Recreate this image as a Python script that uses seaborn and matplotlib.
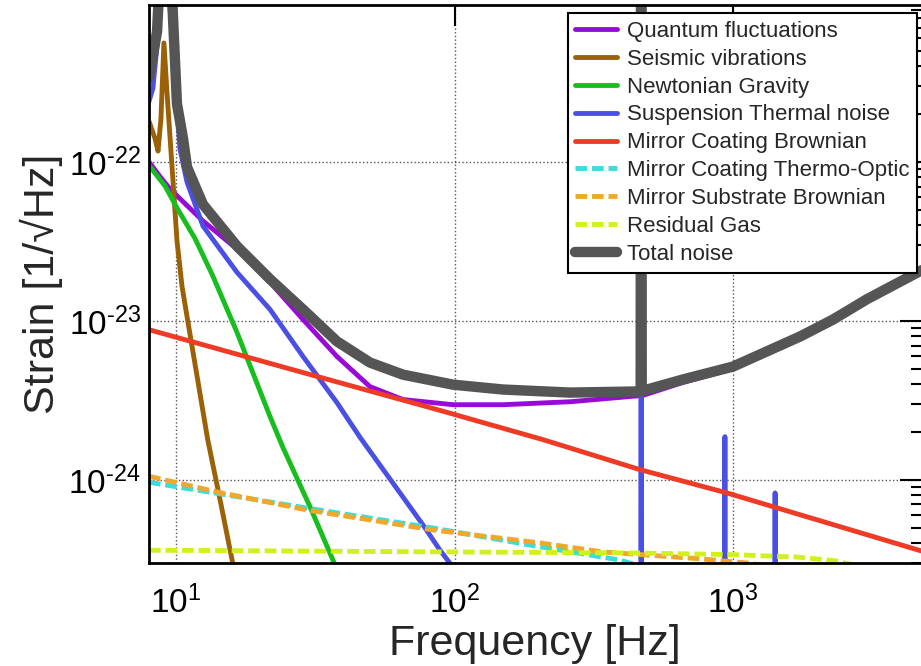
import numpy as np
import matplotlib
matplotlib.use('Agg')
import matplotlib.pyplot as plt
import matplotlib.ticker as mticker
import seaborn as sns

# noise budget values (frequency in Hz, strain in 1/sqrt(Hz))
freq_quantum = [8.0, 8.8, 9.52, 12.5, 16.56, 21.76, 28.58, 37.84, 49.7, 65.3, 98.8, 149.3, 259.9, 475, 661,
                1000, 1742, 2286, 3029, 4800]
strain_quantum = [1.0e-22, 8.0e-23, 6.75e-23, 4.25e-23, 2.83e-23, 1.75e-23, 1.02e-23, 5.97e-24, 3.86e-24, 3.20e-24,
                  2.97e-24, 2.97e-24, 3.10e-24, 3.40e-24, 4.1e-24, 5.0e-24, 7.7e-24, 9.8e-24, 1.33e-23, 2.05e-23]

freq_seismic = [8.0, 8.41, 8.62, 8.83, 9.05, 9.28, 9.76, 10.08, 10.51, 10.95, 13.0, 14.4, 15.9, 17.0]
strain_seismic = [1.8e-22, 1.40e-22, 1.17e-22, 1.87e-22, 5.6e-22, 2.77e-22, 7.48e-23, 3.2e-23, 1.65e-23, 1.07e-23,
                  1.79e-24, 7.48e-25, 3.13e-25, 1.9e-25]

freq_newtonian = [8.0, 9.13, 10.17, 11.7, 13.5, 16.56, 21.76, 24.2, 30.3, 36.6, 40]
strain_newtonian = [9.5e-23, 7.06e-23, 5.0e-23, 3.3e-23, 1.95e-23, 8.46e-24, 2.5e-24, 1.6e-24, 6.76e-25, 3.13e-25, 2.2e-25]

freq_suspension = [8.0, 8.26, 8.6, 9.0, 9.5, 10.33, 10.95, 12.5, 16.56, 21.76, 28.58, 37.84, 45.8, 77.1, 88.7, 120,
                   466, 468, 470, 933, 935, 937, 1413, 1416, 1419]
strain_suspension = [2.4e-22, 2.9e-22, 6e-22, 1e-20, 1e-21, 1.21e-22, 7.48e-23, 3.95e-23, 2.02e-23, 1.18e-23,
                     5.97e-24, 3.06e-24, 1.85e-24, 5.2e-25, 3.61e-25, 1.8e-25,
                     1e-26, 1e-19, 1e-26, 1e-26, 1.87e-24, 1e-26, 1e-26, 8.28e-25, 1e-26]

freq_coating = [8.0, 28.58, 86.5, 208, 463, 950, 4800]
strain_coating = [8.8e-24, 4.73e-24, 2.77e-24, 1.79e-24, 1.16e-24, 8.28e-25, 3.55e-25]

freq_thermo = [8.0, 8.26, 29.5, 83.7, 186.7, 393, 600]
strain_thermo = [9.7e-25, 9.57e-25, 6.65e-25, 4.98e-25, 3.89e-25, 3.13e-25, 2.5e-25]

freq_substrate = [8.0, 8.26, 14.0, 29.5, 83.7, 202.8, 341, 742, 1123, 1500]
strain_substrate = [1.05e-24, 1.04e-24, 8.4e-25, 6.47e-25, 4.84e-25, 4.01e-25, 3.52e-25, 3.2e-25, 3.0e-25, 2.8e-25]

freq_gas = [8.0, 8.26, 427, 975, 1698, 2323, 3000]
strain_gas = [3.61e-25, 3.61e-25, 3.47e-25, 3.39e-25, 3.27e-25, 3.1e-25, 2.8e-25]

freq_total = [8.0, 8.55, 8.75, 9.1, 9.6, 10.08, 10.6, 10.95, 12.5, 16.56, 21.76, 28.58, 37.84, 49.7, 65.3, 98.8,
              149.3, 259.9, 466, 468, 470, 661, 1000, 1742, 2286, 3029, 4800]
strain_total = [3.4e-22, 6.6e-22, 1.5e-21, 1e-20, 1.5e-21, 2.32e-22, 1.40e-22, 9.3e-23, 5.4e-23, 2.95e-23, 1.83e-23,
                1.18e-23, 7.43e-24, 5.47e-24, 4.59e-24, 3.97e-24, 3.70e-24, 3.54e-24,
                3.6e-24, 1e-19, 3.62e-24, 4.28e-24, 5.16e-24, 7.98e-24, 1.02e-23, 1.37e-23, 2.1e-23]

x_ticks = [10, 100, 1000]
y_ticks = [1e-24, 1e-23, 1e-22]

sns.set_style('white')
plt.rcParams['font.family'] = ['Liberation Sans', 'DejaVu Sans']
plt.rcParams['mathtext.fontset'] = 'custom'
plt.rcParams['mathtext.rm'] = 'Liberation Sans'
plt.rcParams['mathtext.it'] = 'Liberation Sans:italic'
plt.rcParams['mathtext.bf'] = 'Liberation Sans:bold'

fig = plt.figure(figsize=(9.21, 6.66), dpi=100)
ax = fig.add_axes([149 / 921, 1 - 563 / 666, 772 / 921, 558 / 666])

dash = (0, (2.4, 1.0))
series = [
    (freq_quantum, strain_quantum, 'Quantum fluctuations', '#9A0AD6', '-', 3.5),
    (freq_seismic, strain_seismic, 'Seismic vibrations', '#9A6106', '-', 3.5),
    (freq_newtonian, strain_newtonian, 'Newtonian Gravity', '#18BE1E', '-', 3.5),
    (freq_suspension, strain_suspension, 'Suspension Thermal noise', '#4B50E4', '-', 3.5),
    (freq_coating, strain_coating, 'Mirror Coating Brownian', '#EE3B26', '-', 3.5),
    (freq_thermo, strain_thermo, 'Mirror Coating Thermo-Optic', '#3BDCDC', dash, 3.5),
    (freq_substrate, strain_substrate, 'Mirror Substrate Brownian', '#F0A82C', dash, 3.5),
    (freq_gas, strain_gas, 'Residual Gas', '#D2F01E', dash, 3.5),
    (freq_total, strain_total, 'Total noise', '#555555', '-', 7.5),
]
for fx, hy, name, col, ls, lw in series:
    sns.lineplot(x=fx, y=hy, ax=ax, color=col, linestyle=ls, lw=lw, label=name, sort=False,
                 solid_joinstyle='round')

ax.set_xscale('log')
ax.set_yscale('log')
ax.set_xlim(8.0, 4730)
ax.set_ylim(3.0e-25, 9.7e-22)


def sci_label(v, pos):
    e = int(round(np.log10(v)))
    s = str(abs(e))
    if e < 0:
        s = r'\text{-}' + s
    return r'$\mathregular{10^{%s}}$' % s


ax.xaxis.set_major_locator(mticker.FixedLocator(x_ticks))
ax.xaxis.set_minor_locator(mticker.NullLocator())
ax.yaxis.set_major_locator(mticker.FixedLocator(y_ticks))
ax.yaxis.set_minor_locator(mticker.LogLocator(base=10, subs=np.arange(2, 10), numticks=20))
ax.yaxis.set_minor_formatter(mticker.NullFormatter())
ax.xaxis.set_major_formatter(mticker.FuncFormatter(sci_label))
ax.yaxis.set_major_formatter(mticker.FuncFormatter(sci_label))

ax.tick_params(which='both', direction='in', top=True, right=True, labelsize=24, width=1.5, colors='black')
ax.tick_params(which='major', length=15)
ax.tick_params(which='minor', length=7)
ax.tick_params(axis='x', which='major', pad=16)
ax.tick_params(axis='y', which='major', pad=6)
ax.grid(True, which='major', linestyle=':', color='#555555', lw=1)

for sp in ax.spines.values():
    sp.set_linewidth(2)
    sp.set_color('black')
ax.spines['right'].set_visible(False)

ax.set_xlabel('Frequency [Hz]', fontsize=31, labelpad=3)
ax.set_ylabel('Strain [1/\u221aHz]', fontsize=31, labelpad=4)

leg = ax.legend(loc='upper right', bbox_to_anchor=(0.9948, 0.9857), borderaxespad=0, fontsize=16,
                frameon=True, fancybox=False, edgecolor='black', framealpha=1, handlelength=1.85,
                labelspacing=0.31, borderpad=0.35, handletextpad=0.45)
leg.get_frame().set_linewidth(1.5)

fig.savefig('out.png', dpi=100)
